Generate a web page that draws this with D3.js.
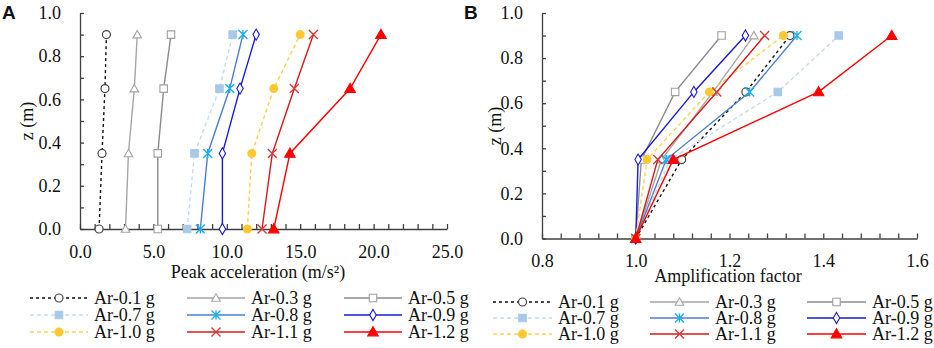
<!DOCTYPE html>
<html>
  <head>
    <meta charset="utf-8">
    <title>Peak acceleration and amplification factor</title>
    <script src="https://d3js.org/d3.v7.min.js"></script>
    <style type="text/css">
      body { margin: 0; background: #fff; }
      svg text { font-family: "Liberation Serif", "Times New Roman", serif; fill: #111; }
      .axis path, .axis line { stroke: #404040; stroke-width: 1.3; }
      .axis text { font-size: 18px; }
      svg text.letter { font-family: "Liberation Sans", Arial, sans-serif; font-weight: bold; font-size: 19px; }
    </style>
  </head>
  <body>
    <script type="text/javascript">
      // heights of measuring points (m)
      var zLevels = [0, 0.35, 0.65, 0.9];
      var seriesNames = ["Ar-0.1 g", "Ar-0.3 g", "Ar-0.5 g", "Ar-0.7 g", "Ar-0.8 g",
                         "Ar-0.9 g", "Ar-1.0 g", "Ar-1.1 g", "Ar-1.2 g"];

      // panel A: peak acceleration (m/s2) at z = 0, 0.35, 0.65, 0.9
      var peak01 = [1.3, 1.5, 1.7, 1.8];
      var peak03 = [3.1, 3.3, 3.7, 3.9];
      var peak05 = [5.3, 5.3, 5.7, 6.2];
      var peak07 = [7.3, 7.8, 9.5, 10.4];
      var peak08 = [8.2, 8.7, 10.2, 11.1];
      var peak09 = [9.7, 9.7, 10.9, 12.0];
      var peak10 = [11.4, 11.7, 13.2, 15.0];
      var peak11 = [12.4, 13.1, 14.6, 15.9];
      var peak12 = [13.2, 14.3, 18.4, 20.5];

      // panel B: amplification factor
      var amp01 = [1.0, 1.098, 1.235, 1.329];
      var amp03 = [1.0, 1.055, 1.165, 1.252];
      var amp05 = [1.0, 1.012, 1.084, 1.183];
      var amp07 = [1.0, 1.073, 1.303, 1.433];
      var amp08 = [1.0, 1.065, 1.243, 1.344];
      var amp09 = [1.0, 1.005, 1.124, 1.234];
      var amp10 = [1.0, 1.024, 1.157, 1.315];
      var amp11 = [1.0, 1.047, 1.173, 1.275];
      var amp12 = [1.0, 1.080, 1.390, 1.546];

      var peakTickLabels = [0, 5, 10, 15, 20, 25];
      var ampTickLabels = [0.8, 1.0, 1.2, 1.4, 1.6];
      var zTickLabels = [0, 0.2, 0.4, 0.6, 0.8, 1.0];

      var peakData = [peak01, peak03, peak05, peak07, peak08, peak09, peak10, peak11, peak12];
      var ampData = [amp01, amp03, amp05, amp07, amp08, amp09, amp10, amp11, amp12];

      var serif = "'Liberation Serif', 'Times New Roman', serif";

      // line / marker look of each series
      var styles = [
        {line: "#111", dash: "3,3", marker: "circle", stroke: "#444", fill: "#fff"},
        {line: "#a6a6a6", dash: null, marker: "triangle", stroke: "#a6a6a6", fill: "#fff"},
        {line: "#8c8c8c", dash: null, marker: "square", stroke: "#a0a0a0", fill: "#fff"},
        {line: "#c5dcf0", dash: "4,3", marker: "square", stroke: "#a9c9ea", fill: "#a9c9ea"},
        {line: "#4a7fd0", dash: null, marker: "star", stroke: "#1ab0f0", fill: "none"},
        {line: "#1a1ad6", dash: null, marker: "diamond", stroke: "#1a1ad6", fill: "#fff"},
        {line: "#ffd24d", dash: "4,3", marker: "dot", stroke: "#ffc830", fill: "#ffc830"},
        {line: "#d41a1a", dash: null, marker: "cross", stroke: "#d43a3a", fill: "none"},
        {line: "#ff0000", dash: null, marker: "filltri", stroke: "#ff0000", fill: "#ff0000"}
      ];

      var svg = d3.select("body")
        .append("svg")
        .attr("width", 934)
        .attr("height", 348);

      function drawMarker(g, st, x, y) {
        var m = st.marker;
        if (m == "circle") {
          g.append("circle").attr("cx", x).attr("cy", y).attr("r", 4)
            .attr("fill", st.fill).attr("stroke", st.stroke).attr("stroke-width", 1.2);
        } else if (m == "dot") {
          g.append("circle").attr("cx", x).attr("cy", y).attr("r", 4.5)
            .attr("fill", st.fill).attr("stroke", "none");
        } else if (m == "star" || m == "cross") {
          var s = 4.5;
          var p = "M" + (x - s) + "," + (y - s) + "L" + (x + s) + "," + (y + s) +
                  "M" + (x - s) + "," + (y + s) + "L" + (x + s) + "," + (y - s);
          if (m == "star") p += "M" + x + "," + (y - s) + "L" + x + "," + (y + s);
          g.append("path").attr("d", p).attr("stroke", st.stroke)
            .attr("stroke-width", 1.4).attr("fill", "none");
        } else {
          var type = {triangle: d3.symbolTriangle, filltri: d3.symbolTriangle,
                      square: d3.symbolSquare, diamond: d3.symbolDiamond}[m];
          var size = {triangle: 32, filltri: 48, square: 56, diamond: 36}[m];
          g.append("path")
            .attr("d", d3.symbol().type(type).size(size)())
            .attr("transform", "translate(" + x + "," + (m == "triangle" || m == "filltri" ? y + 0.8 : y) + ")")
            .attr("fill", st.fill).attr("stroke", st.stroke).attr("stroke-width", 1.1);
        }
      }

      function drawPanel(p) {
        var x = d3.scaleLinear().domain(p.xDomain).range(p.xRange);
        var y = d3.scaleLinear().domain([0, 1]).range(p.yRange);
        var g = svg.append("g");

        // x axis, ticks pointing inward
        var xMinor = d3.range(p.xDomain[0], p.xDomain[1] + p.xStep / 2, p.xStep);
        g.append("g").attr("class", "axis")
          .attr("transform", "translate(0," + p.yRange[0] + ")")
          .call(d3.axisBottom(x).tickValues(xMinor).tickSizeInner(-5).tickSizeOuter(0)
            .tickFormat(""));
        g.append("g").attr("class", "axis")
          .attr("transform", "translate(0," + p.yRange[0] + ")")
          .attr("font-family", serif)
          .call(d3.axisBottom(x).tickValues(p.xLabels).tickSize(0).tickPadding(16)
            .tickFormat(d3.format(".1f")))
          .call(function(a) { a.attr("font-family", serif).attr("font-size", 18); })
          .select(".domain").remove();

        // y axis
        g.append("g").attr("class", "axis")
          .attr("transform", "translate(" + p.xRange[0] + ",0)")
          .call(d3.axisLeft(y).tickValues(d3.range(0, 1.05, 0.1)).tickSizeInner(-4)
            .tickSizeOuter(0).tickFormat(""));
        g.append("g").attr("class", "axis")
          .attr("transform", "translate(" + p.xRange[0] + ",0)")
          .call(d3.axisLeft(y).tickValues(zTickLabels).tickSize(0).tickPadding(19)
            .tickFormat(d3.format(".1f")))
          .call(function(a) { a.attr("font-family", serif).attr("font-size", 18); })
          .select(".domain").remove();

        // titles
        g.append("text")
          .attr("transform", "translate(" + p.zTitleX + "," + p.zTitleY + ") rotate(-90)")
          .attr("text-anchor", "middle")
          .attr("font-family", serif)
          .style("font-size", "18px")
          .text("z (m)");
        g.append("text")
          .attr("x", p.xTitleX).attr("y", p.xTitleY)
          .attr("text-anchor", "middle")
          .attr("font-family", serif)
          .style("font-size", "18px")
          .text(p.xTitle);
        g.append("text").attr("class", "letter")
          .attr("x", p.letterX).attr("y", 19)
          .text(p.letter);

        // series
        var line = d3.line()
          .x(function(d) { return x(d[0]); })
          .y(function(d) { return y(d[1]); });
        p.data.forEach(function(vals, i) {
          var st = styles[i];
          var pts = vals.map(function(v, j) { return [v, zLevels[j]]; });
          var sg = g.append("g");
          sg.append("path")
            .attr("d", line(pts))
            .attr("fill", "none")
            .attr("stroke", st.line)
            .attr("stroke-width", 1.4)
            .attr("stroke-dasharray", st.dash);
          pts.forEach(function(d) { drawMarker(sg, st, x(d[0]), y(d[1])); });
        });

        // legend
        seriesNames.forEach(function(name, i) {
          var st = styles[i];
          var col = i % 3, row = Math.floor(i / 3);
          var lx = p.legX + col * p.legColW;
          var ly = p.legY + row * p.legRowH;
          var lg = g.append("g");
          lg.append("line")
            .attr("x1", lx).attr("x2", lx + p.legLineW)
            .attr("y1", ly).attr("y2", ly)
            .attr("stroke", st.line).attr("stroke-width", 1.4)
            .attr("stroke-dasharray", st.dash);
          drawMarker(lg, st, lx + p.legLineW / 2, ly);
          lg.append("text")
            .attr("x", lx + p.legLineW + 6).attr("y", ly + 6)
            .attr("font-family", serif)
            .style("font-size", "18px")
            .text(name);
        });
      }

      drawPanel({
        letter: "A", letterX: 2,
        data: peakData,
        xDomain: [0, 25], xStep: 1, xLabels: peakTickLabels,
        xRange: [80, 447], yRange: [229, 13],
        xTitle: "Peak acceleration (m/s\u00b2)", xTitleX: 258, xTitleY: 278,
        zTitleX: 33, zTitleY: 121,
        legX: 30, legY: 298, legColW: 157, legRowH: 17, legLineW: 58
      });

      drawPanel({
        letter: "B", letterX: 464,
        data: ampData,
        xDomain: [0.8, 1.6], xStep: 0.04, xLabels: ampTickLabels,
        xRange: [542, 917], yRange: [238.5, 13],
        xTitle: "Amplification factor", xTitleX: 728, xTitleY: 282,
        zTitleX: 501, zTitleY: 126,
        legX: 493, legY: 302, legColW: 157, legRowH: 16, legLineW: 59
      });
    </script>
  </body>
</html>
